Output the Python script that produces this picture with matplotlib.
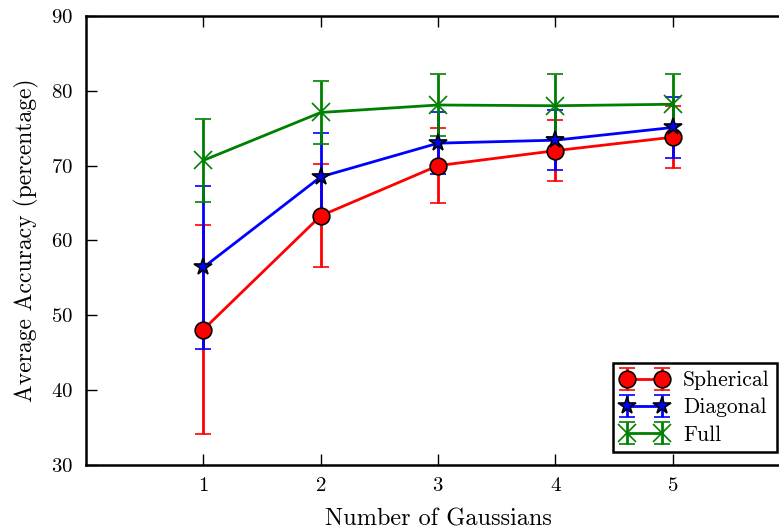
import numpy as np
import matplotlib
matplotlib.use("Agg")
import matplotlib.pyplot as plt

# values
gaussians = [1, 2, 3, 4, 5]

spherical_mean = [48.1, 63.3, 70.0, 72.0, 73.8]
spherical_err = [14.0, 6.9, 5.0, 4.1, 4.1]

diagonal_mean = [56.4, 68.5, 73.0, 73.4, 75.1]
diagonal_err = [10.9, 5.8, 4.1, 4.0, 4.1]

full_mean = [70.7, 77.1, 78.1, 78.0, 78.2]
full_err = [5.5, 4.2, 4.1, 4.2, 4.1]

plt.rcParams['font.family'] = 'cmr10'
plt.rcParams['mathtext.fontset'] = 'cm'
plt.rcParams['axes.formatter.use_mathtext'] = True

fig = plt.figure(figsize=(7.79, 5.31), dpi=100)
ax = fig.add_axes([0.1104, 0.1243, 0.904, 0.8457])

series = [
    ("Spherical", spherical_mean, spherical_err, "red", "o", 12),
    ("Diagonal", diagonal_mean, diagonal_err, "blue", "*", 13),
    ("Full", full_mean, full_err, "green", "x", 13),
]
for name, mean, err, col, mk, ms in series:
    ax.errorbar(gaussians, mean, yerr=err, color=col, ecolor=col, lw=2,
                elinewidth=2, capsize=6, capthick=1.6, marker=mk,
                markersize=ms, markerfacecolor=col,
                markeredgecolor="black" if mk != "x" else col,
                markeredgewidth=1.2, label=name)

ax.set_xlim(0, 6)
ax.set_ylim(30, 90)
ax.set_xticks([1, 2, 3, 4, 5])
ax.set_yticks([30, 40, 50, 60, 70, 80, 90])
ax.tick_params(direction="in", length=8, width=1, top=True, right=True,
               labelsize=15, pad=9)
for s in ax.spines.values():
    s.set_linewidth(1.8)

ax.set_xlabel("Number of Gaussians", fontsize=17.5, labelpad=9)
ax.set_ylabel("Average Accuracy (percentage)", fontsize=17, labelpad=9)

leg = ax.legend(loc="lower right", numpoints=2, fontsize=15.5, fancybox=False,
                framealpha=1, edgecolor="black", borderaxespad=0.6,
                handlelength=2.2, borderpad=0.35, labelspacing=0.35,
                handletextpad=0.7)
leg.get_frame().set_linewidth(1.8)

fig.savefig("out.png", dpi=100)
